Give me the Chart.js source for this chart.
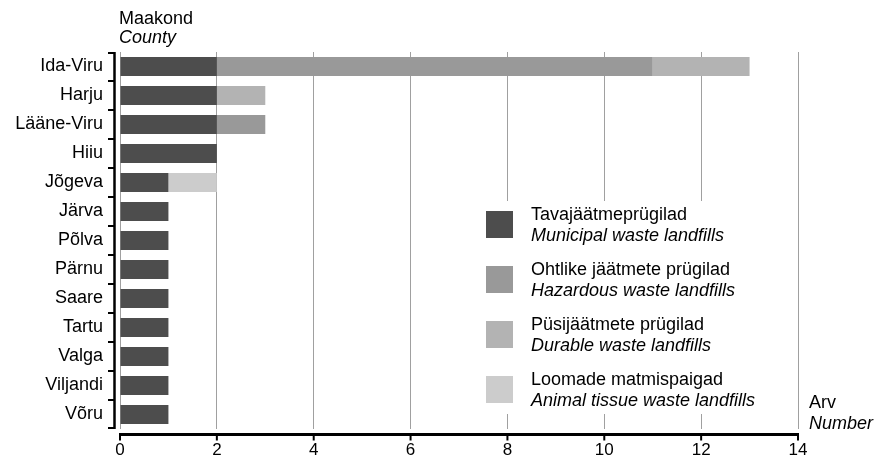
<!DOCTYPE html>
<html>
<head>
<meta charset="utf-8">
<script src="https://cdn.jsdelivr.net/npm/chart.js@4.4.1/dist/chart.umd.min.js"></script>
<style>
html,body{margin:0;padding:0;background:#fff;}
#wrap{width:877px;height:462px;position:relative;}
</style>
</head>
<body>
<div id="wrap"><canvas id="c" width="877" height="462"></canvas></div>
<script>
const counties = ["Ida-Viru","Harju","Lääne-Viru","Hiiu","Jõgeva","Järva","Põlva","Pärnu","Saare","Tartu","Valga","Viljandi","Võru"];
const municipal = [2,2,2,2,1,1,1,1,1,1,1,1,1];
const hazardous = [9,0,1,0,0,0,0,0,0,0,0,0,0];
const durable   = [2,1,0,0,0,0,0,0,0,0,0,0,0];
const animal    = [0,0,0,0,1,0,0,0,0,0,0,0,0];
const xTicks = [0,2,4,6,8,10,12,14];
const seriesEt = ["Tavajäätmeprügilad","Ohtlike jäätmete prügilad","Püsijäätmete prügilad","Loomade matmispaigad"];
const seriesEn = ["Municipal waste landfills","Hazardous waste landfills","Durable waste landfills","Animal tissue waste landfills"];
const colors = ["#4d4d4d","#999999","#b3b3b3","#cccccc"];
const axisTitleEt = "Maakond", axisTitleEn = "County";
const valTitleEt = "Arv", valTitleEn = "Number";

const FONT = "'Liberation Sans', Arial, sans-serif";
Chart.defaults.font.family = FONT;
Chart.defaults.font.size = 18;
Chart.defaults.color = "#000";

const decor = {
  id: 'decor',
  afterDraw(chart) {
    const ctx = chart.ctx;
    const x = chart.scales.x, y = chart.scales.y;
    const ca = chart.chartArea;
    ctx.save();
    // y axis line
    ctx.strokeStyle = '#000';
    ctx.lineWidth = 2.5;
    const ax = ca.left - 5.5;
    ctx.beginPath();
    ctx.moveTo(ax, ca.top); ctx.lineTo(ax, ca.bottom);
    ctx.stroke();
    ctx.lineWidth = 2;
    const n = counties.length;
    for (let i = 0; i <= n; i++) {
      const yy = (i === 0) ? ca.top + 1 : (i === n ? ca.bottom - 1 : (y.getPixelForValue(i - 1) + y.getPixelForValue(i)) / 2);
      ctx.beginPath(); ctx.moveTo(ax - 6.5, yy); ctx.lineTo(ax, yy); ctx.stroke();
    }
    // x axis line
    const axY = ca.bottom + 5.5;
    ctx.lineWidth = 3;
    ctx.beginPath();
    ctx.moveTo(x.getPixelForValue(0) - 1, axY); ctx.lineTo(x.getPixelForValue(14) + 1, axY);
    ctx.stroke();
    ctx.lineWidth = 2;
    xTicks.forEach(v => {
      const px = x.getPixelForValue(v);
      ctx.beginPath(); ctx.moveTo(px, axY); ctx.lineTo(px, axY + 6); ctx.stroke();
    });
    // axis titles
    ctx.fillStyle = '#000';
    ctx.textAlign = 'left';
    ctx.textBaseline = 'alphabetic';
    ctx.font = "18px " + FONT;
    ctx.fillText(axisTitleEt, 119, 24);
    ctx.font = "italic 18px " + FONT;
    ctx.fillText(axisTitleEn, 119, 43);
    ctx.font = "18px " + FONT;
    ctx.fillText(valTitleEt, 809, 407.5);
    ctx.font = "italic 18px " + FONT;
    ctx.fillText(valTitleEn, 809, 429);
    // legend
    ctx.fillStyle = '#fff';
    ctx.fillRect(478, 201, 297, 213);
    for (let i = 0; i < 4; i++) {
      const top = 211 + i * 55;
      ctx.fillStyle = colors[i];
      ctx.fillRect(486, top, 27, 27);
      ctx.fillStyle = '#000';
      ctx.font = "18px " + FONT;
      ctx.fillText(seriesEt[i], 531, top + 9);
      ctx.font = "italic 18px " + FONT;
      ctx.fillText(seriesEn[i], 531, top + 29.5);
    }
    ctx.restore();
  }
};

const mk = (label, data, color) => ({
  label, data, backgroundColor: color, borderWidth: 0,
  barPercentage: 0.66, categoryPercentage: 1
});

new Chart(document.getElementById('c'), {
  type: 'bar',
  data: {
    labels: counties,
    datasets: [
      mk(seriesEn[0], municipal, colors[0]),
      mk(seriesEn[1], hazardous, colors[1]),
      mk(seriesEn[2], durable, colors[2]),
      mk(seriesEn[3], animal, colors[3])
    ]
  },
  options: {
    indexAxis: 'y',
    responsive: false,
    animation: false,
    layout: { padding: { top: 52, right: 79, left: 0, bottom: 0 } },
    plugins: { legend: { display: false }, tooltip: { enabled: false } },
    scales: {
      x: {
        stacked: true, min: 0, max: 14,
        afterBuildTicks(s) { s.ticks = xTicks.map(v => ({ value: v })); },
        grid: { color: '#a0a0a0', lineWidth: 1, drawTicks: false },
        border: { display: false },
        ticks: { padding: 11, font: { size: 17 }, color: '#000', maxRotation: 0 },
        afterFit(s) { s.height = 462 - 429; }
      },
      y: {
        stacked: true,
        grid: { display: false, drawTicks: false },
        border: { display: false },
        ticks: { padding: 17, font: { size: 18 }, color: '#000', autoSkip: false },
        afterFit(s) { s.width = 120; }
      }
    }
  },
  plugins: [decor]
});
</script>
</body>
</html>
